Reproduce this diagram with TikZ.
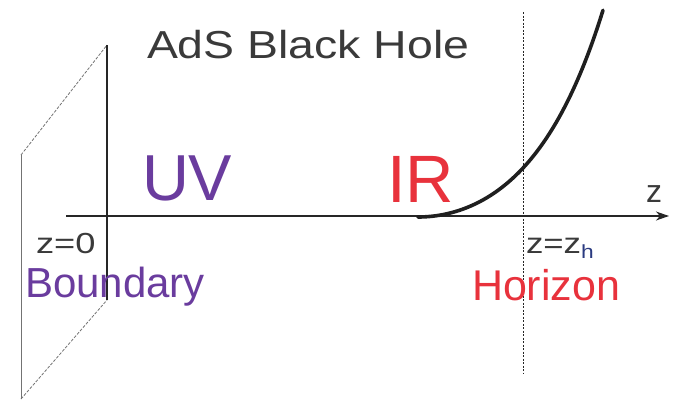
\documentclass[tikz,border=0pt]{standalone}
\usepackage{fontspec}
\setmainfont{Liberation Sans}
\usetikzlibrary{arrows.meta}
\definecolor{uvpurple}{HTML}{6A3C9E}
\definecolor{irred}{HTML}{E8323C}
\definecolor{txtgray}{HTML}{3A3A3A}
\definecolor{subblue}{HTML}{2A3A80}
\tikzset{
  lbl/.style={anchor=base west, inner sep=0pt, outer sep=0pt},
  planeedge/.style={draw=black!55, line width=0.8pt},
  planedash/.style={draw=black!55, line width=0.8pt, dash pattern=on 3pt off 1.5pt},
}
\begin{document}
\begin{tikzpicture}[x=1pt,y=-1pt]
\useasboundingbox (0,0) rectangle (675,405);
% plane corners
\coordinate (pTR) at (107,45);
\coordinate (pBR) at (107,300);
\coordinate (pTL) at (21,155);
\coordinate (pBL) at (21,399);
\draw[planedash] (pTL) -- (pTR);
\draw[planedash] (pBL) -- (pBR);
\draw[planeedge] (pTL) -- (pBL);
\draw[draw=black!85, line width=1.1pt] (pTR) -- (pBR);
% axis
\coordinate (axL) at (66,216);
\coordinate (axR) at (669,216);
\draw[black!85, line width=1.1pt, -{Stealth[length=13pt,width=9pt,inset=4pt]}] (axL) -- (axR);
% horizon line
\coordinate (hT) at (523,12);
\coordinate (hB) at (523,373);
\draw[black!85, line width=0.9pt, dash pattern=on 2pt off 1.5pt] (hT) -- (hB);
% curve
\draw[black!88, line width=3.6pt, line cap=round, smooth, samples=60, domain=418:603]
  plot ({\x},{217-45.1*(cosh(0.013*(\x-418))-1)});
% texts
\node[lbl, text=txtgray, font=\fontsize{39}{39}\selectfont, xscale=1.19] (title) at (147,58) {AdS Black Hole};
\node[lbl, text=uvpurple, font=\fontsize{65}{65}\selectfont] (uv) at (142,200) {UV};
\node[lbl, text=irred, font=\fontsize{67}{67}\selectfont] (ir) at (387,202) {IR};
\node[lbl, text=txtgray, font=\fontsize{29}{29}\selectfont, xscale=1.25] (z0) at (36,253) {z=0};
\node[lbl, text=uvpurple, font=\fontsize{42}{42}\selectfont] (bd) at (25,297) {Boundary};
\node[lbl, text=irred, font=\fontsize{43}{43}\selectfont] (hz) at (472,300) {Horizon};
\node[lbl, text=txtgray, font=\fontsize{29}{29}\selectfont, xscale=1.2] (zh) at (526,253) {z=z\textcolor{subblue}{\raisebox{-5pt}{\fontsize{19}{19}\selectfont h}}};
\node[lbl, text=txtgray, font=\fontsize{32}{32}\selectfont] (zax) at (646,202) {z};
\end{tikzpicture}
\end{document}
